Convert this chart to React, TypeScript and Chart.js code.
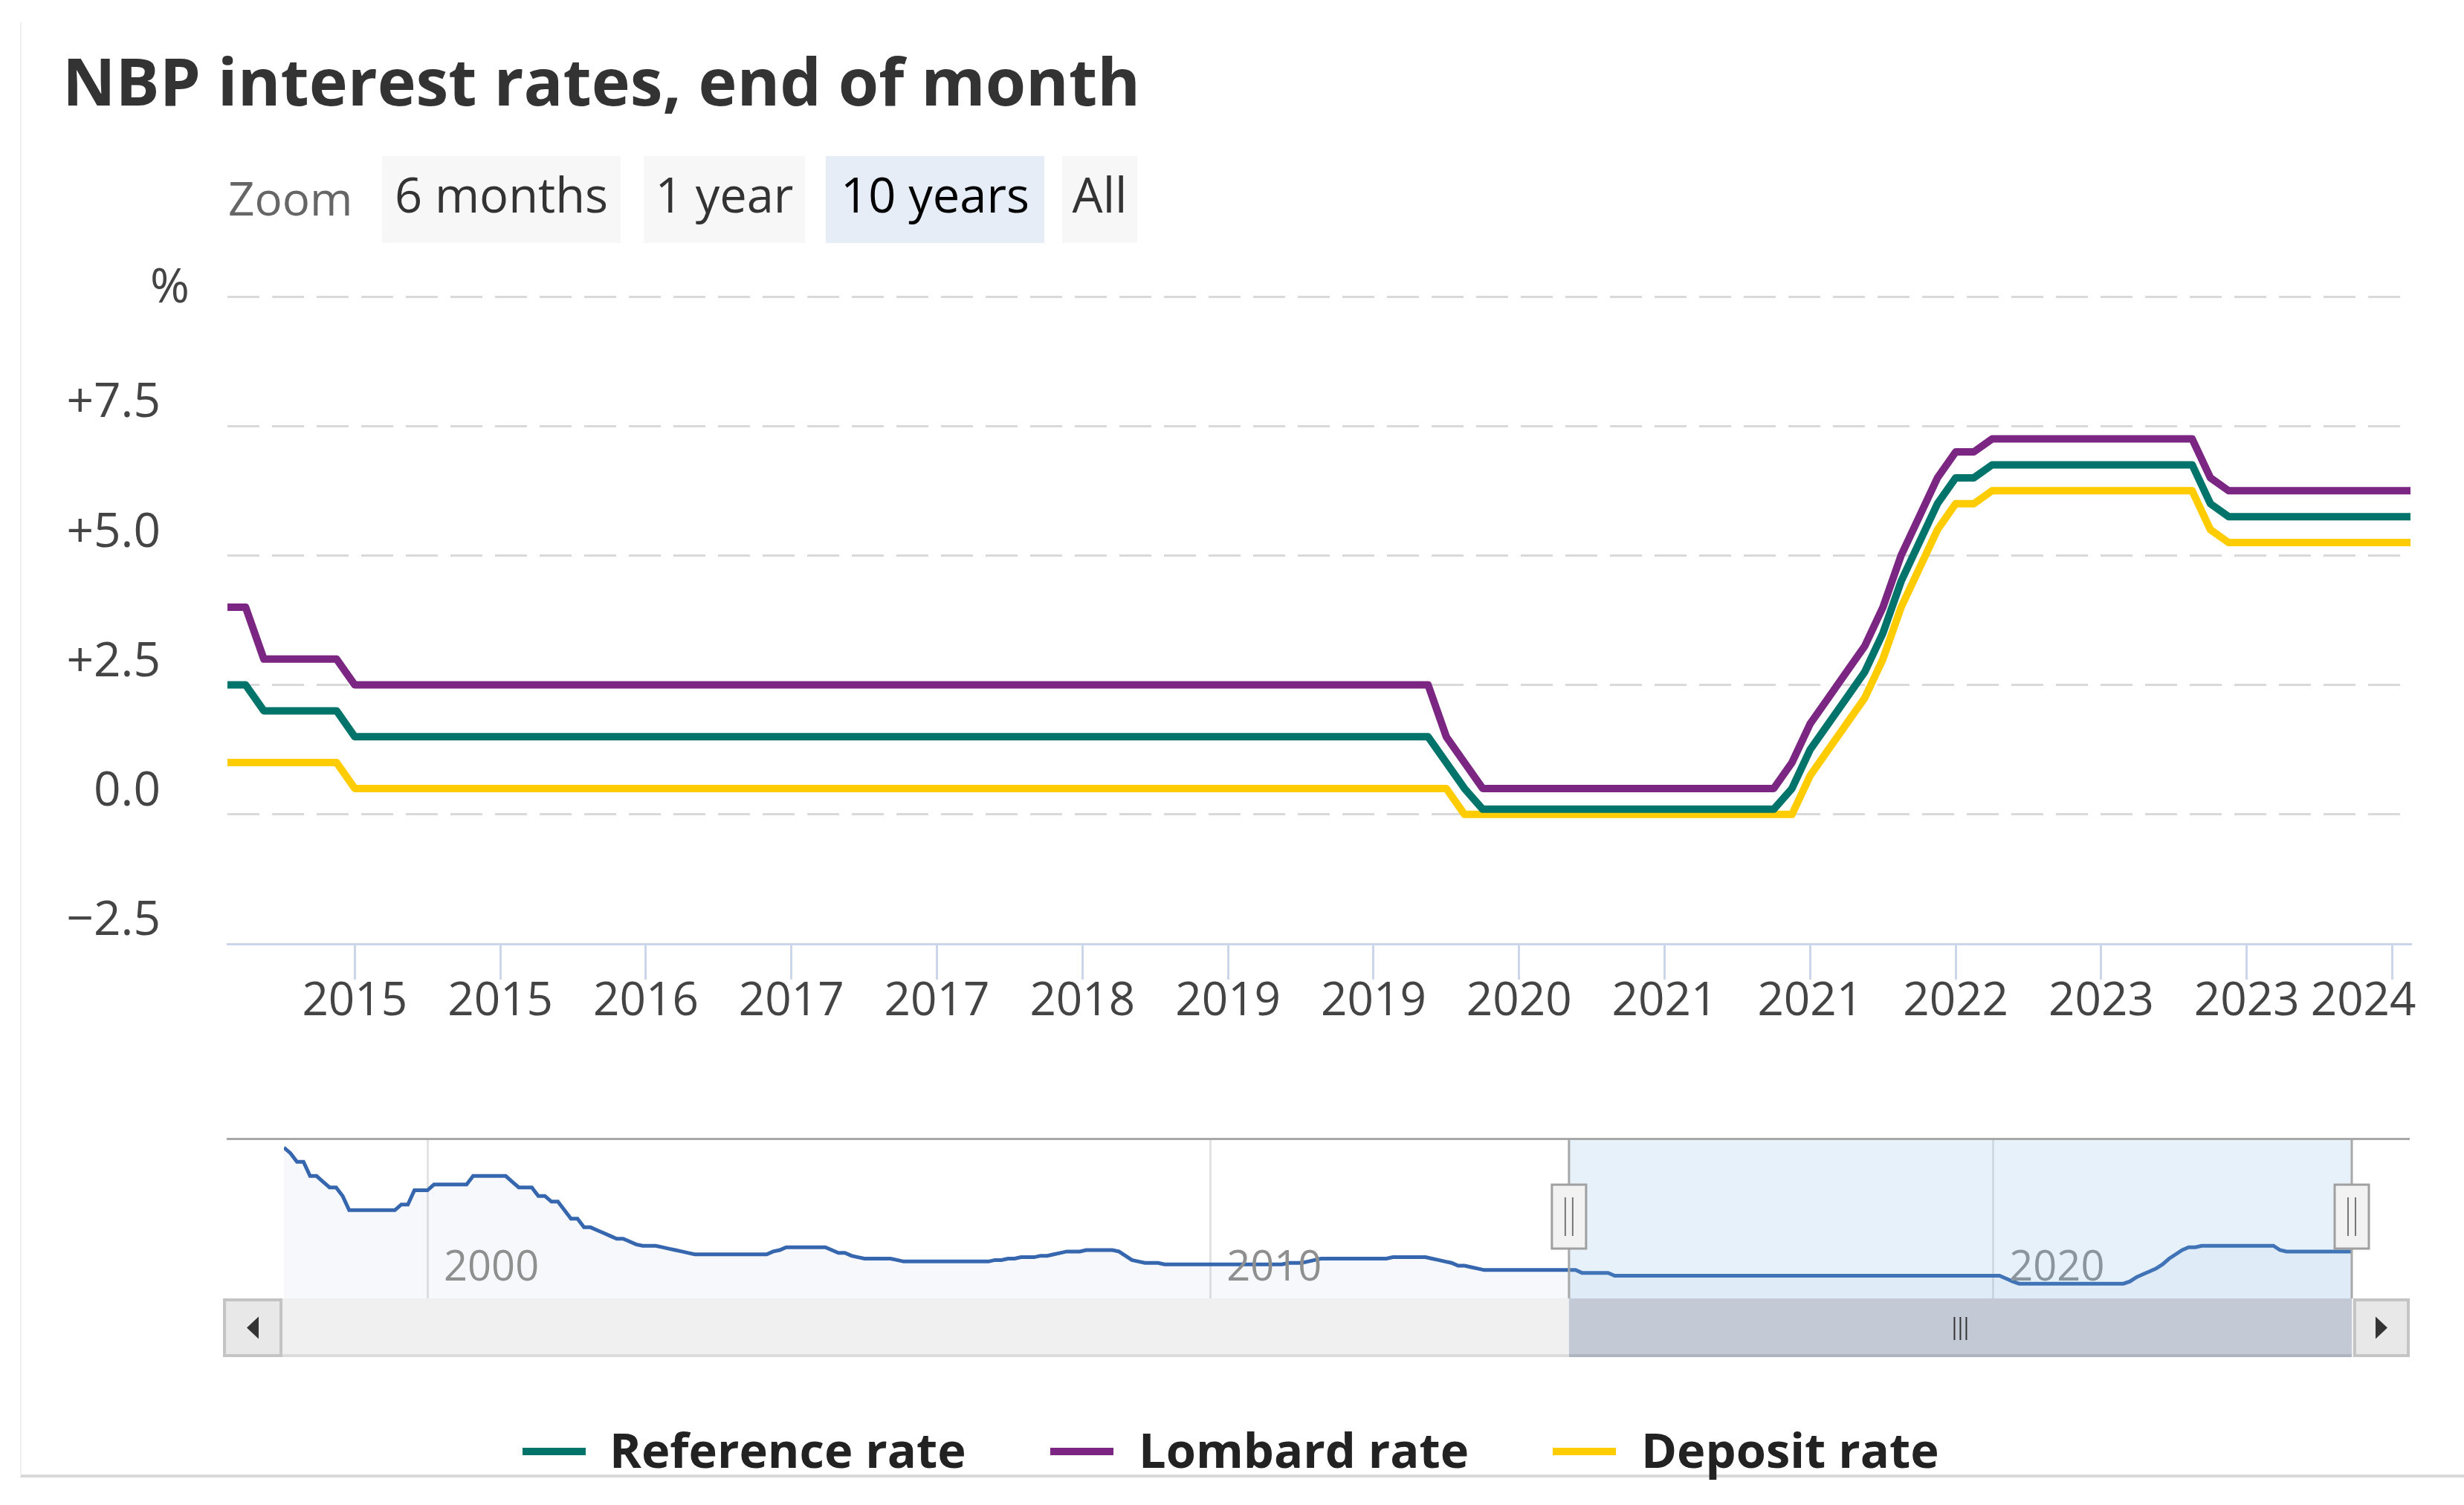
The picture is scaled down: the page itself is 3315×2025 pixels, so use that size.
import React, { useEffect, useRef } from 'react';
import { Chart, registerables } from 'chart.js';

Chart.register(...registerables);

const FONT = '"Open Sans", "Noto Sans", "DejaVu Sans", sans-serif';

const chartTitle = 'NBP interest rates, end of month';
const zoomLabel = 'Zoom';
const zoomButtons = ['6 months', '1 year', '10 years', 'All'];
const zoomSelected = 2;

const seriesNames = ['Reference rate', 'Lombard rate', 'Deposit rate'];
const seriesColors = ['#00736a', '#7b2682', '#ffcc00'];

// Month index 0 = Aug 2014 ... 120 = Aug 2024 (end-of-month values, %)
const referenceRate = [
  2.5, 2.5, 2.0, 2.0, 2.0, 2.0, 2.0, 1.5, 1.5, 1.5, 1.5, 1.5,
  1.5, 1.5, 1.5, 1.5, 1.5, 1.5, 1.5, 1.5, 1.5, 1.5, 1.5, 1.5,
  1.5, 1.5, 1.5, 1.5, 1.5, 1.5, 1.5, 1.5, 1.5, 1.5, 1.5, 1.5,
  1.5, 1.5, 1.5, 1.5, 1.5, 1.5, 1.5, 1.5, 1.5, 1.5, 1.5, 1.5,
  1.5, 1.5, 1.5, 1.5, 1.5, 1.5, 1.5, 1.5, 1.5, 1.5, 1.5, 1.5,
  1.5, 1.5, 1.5, 1.5, 1.5, 1.5, 1.5, 1.0, 0.5, 0.1, 0.1, 0.1,
  0.1, 0.1, 0.1, 0.1, 0.1, 0.1, 0.1, 0.1, 0.1, 0.1, 0.1, 0.1,
  0.1, 0.1, 0.5, 1.25, 1.75, 2.25, 2.75, 3.5, 4.5, 5.25, 6.0, 6.5,
  6.5, 6.75, 6.75, 6.75, 6.75, 6.75, 6.75, 6.75, 6.75, 6.75, 6.75, 6.75,
  6.75, 6.0, 5.75, 5.75, 5.75, 5.75, 5.75, 5.75, 5.75, 5.75, 5.75, 5.75,
  5.75,
];
const lombardRate = [
  4.0, 4.0, 3.0, 3.0, 3.0, 3.0, 3.0, 2.5, 2.5, 2.5, 2.5, 2.5,
  2.5, 2.5, 2.5, 2.5, 2.5, 2.5, 2.5, 2.5, 2.5, 2.5, 2.5, 2.5,
  2.5, 2.5, 2.5, 2.5, 2.5, 2.5, 2.5, 2.5, 2.5, 2.5, 2.5, 2.5,
  2.5, 2.5, 2.5, 2.5, 2.5, 2.5, 2.5, 2.5, 2.5, 2.5, 2.5, 2.5,
  2.5, 2.5, 2.5, 2.5, 2.5, 2.5, 2.5, 2.5, 2.5, 2.5, 2.5, 2.5,
  2.5, 2.5, 2.5, 2.5, 2.5, 2.5, 2.5, 1.5, 1.0, 0.5, 0.5, 0.5,
  0.5, 0.5, 0.5, 0.5, 0.5, 0.5, 0.5, 0.5, 0.5, 0.5, 0.5, 0.5,
  0.5, 0.5, 1.0, 1.75, 2.25, 2.75, 3.25, 4.0, 5.0, 5.75, 6.5, 7.0,
  7.0, 7.25, 7.25, 7.25, 7.25, 7.25, 7.25, 7.25, 7.25, 7.25, 7.25, 7.25,
  7.25, 6.5, 6.25, 6.25, 6.25, 6.25, 6.25, 6.25, 6.25, 6.25, 6.25, 6.25,
  6.25,
];
const depositRate = [
  1.0, 1.0, 1.0, 1.0, 1.0, 1.0, 1.0, 0.5, 0.5, 0.5, 0.5, 0.5,
  0.5, 0.5, 0.5, 0.5, 0.5, 0.5, 0.5, 0.5, 0.5, 0.5, 0.5, 0.5,
  0.5, 0.5, 0.5, 0.5, 0.5, 0.5, 0.5, 0.5, 0.5, 0.5, 0.5, 0.5,
  0.5, 0.5, 0.5, 0.5, 0.5, 0.5, 0.5, 0.5, 0.5, 0.5, 0.5, 0.5,
  0.5, 0.5, 0.5, 0.5, 0.5, 0.5, 0.5, 0.5, 0.5, 0.5, 0.5, 0.5,
  0.5, 0.5, 0.5, 0.5, 0.5, 0.5, 0.5, 0.5, 0.0, 0.0, 0.0, 0.0,
  0.0, 0.0, 0.0, 0.0, 0.0, 0.0, 0.0, 0.0, 0.0, 0.0, 0.0, 0.0,
  0.0, 0.0, 0.0, 0.75, 1.25, 1.75, 2.25, 3.0, 4.0, 4.75, 5.5, 6.0,
  6.0, 6.25, 6.25, 6.25, 6.25, 6.25, 6.25, 6.25, 6.25, 6.25, 6.25, 6.25,
  6.25, 5.5, 5.25, 5.25, 5.25, 5.25, 5.25, 5.25, 5.25, 5.25, 5.25, 5.25,
  5.25,
];
const seriesValues = [referenceRate, lombardRate, depositRate];
const mainLastMonth = 120;

const xTickMonths = [7, 15, 23, 31, 39, 47, 55, 63, 71, 79, 87, 95, 103, 111, 119];
const xTickLabels = ['2015', '2015', '2016', '2017', '2017', '2018', '2019', '2019', '2020', '2021', '2021', '2022', '2023', '2023', '2024'];

const yTickValues = [-2.5, 0, 2.5, 5, 7.5, 10];
const yTickLabels = ['\u22122.5', '0.0', '+2.5', '+5.0', '+7.5', '%'];

// Navigator: reference rate history, month index 0 = Mar 1998 ... 317 = Aug 2024
const navChangeMonths = [
  0, 1, 2, 4, 6, 7, 9, 10, 18, 20, 23, 29, 35, 36, 39, 41, 43, 44, 46, 48,
  49, 50, 51, 53, 54, 55, 58, 59, 60, 61, 62, 63, 75, 76, 77, 84, 85, 87, 88, 89,
  94, 95, 109, 111, 113, 116, 118, 119, 120, 123, 128, 129, 130, 131, 132, 135, 154, 157, 158, 159,
  170, 176, 177, 178, 179, 180, 182, 183, 184, 199, 204, 264, 265, 266, 283, 284, 285, 286, 287, 288,
  289, 290, 291, 292, 294, 306, 307,
];
const navChangeRates = [
  24, 23, 21.5, 19, 18, 17, 15.5, 13, 14, 16.5, 17.5, 19, 18, 17, 15.5, 14.5, 13, 11.5, 10, 9.5,
  9, 8.5, 8, 7.5, 7, 6.75, 6.5, 6.25, 6, 5.75, 5.5, 5.25, 5.75, 6, 6.5, 6, 5.5, 5, 4.75, 4.5,
  4.25, 4, 4.25, 4.5, 4.75, 5, 5.25, 5.5, 5.75, 6, 5.75, 5, 4.25, 4, 3.75, 3.5, 3.75, 4, 4.25, 4.5,
  4.75, 4.5, 4.25, 4, 3.75, 3.25, 3, 2.75, 2.5, 2, 1.5, 1, 0.5, 0.1, 0.5, 1.25, 1.75, 2.25, 2.75, 3.5,
  4.5, 5.25, 6, 6.5, 6.75, 6, 5.75,
];
const navLastMonth = 317;
const navTickMonths = [22, 142, 262];
const navTickLabels = ['2000', '2010', '2020'];
const navSelection = [197, 317];

function buildNavPoints() {
  const pts: { x: number; y: number }[] = [];
  navChangeMonths.forEach((m, i) => {
    if (i > 0 && m - 1 > navChangeMonths[i - 1]) {
      pts.push({ x: m - 1, y: navChangeRates[i - 1] });
    }
    pts.push({ x: m, y: navChangeRates[i] });
  });
  pts.push({ x: navLastMonth, y: navChangeRates[navChangeRates.length - 1] });
  return pts;
}

const X_FONT_SIZE = 62;
const X_TICK_LEN = 48;
const X_TICK_PAD = -7;

// Draws the "%" unit label at the top of the y axis and keeps the last x label
// inside the plot edge (as the original chart justifies it).
const axisExtras = {
  id: 'axisExtras',
  afterDraw(chart: any) {
    const { ctx } = chart;
    const y = chart.scales.y;
    const x = chart.scales.x;
    const py = y.getPixelForValue(10);
    const label = yTickLabels[yTickValues.indexOf(10)];
    ctx.save();
    ctx.font = `64px ${FONT}`;
    ctx.fillStyle = '#444444';
    ctx.textAlign = 'right';
    ctx.textBaseline = 'alphabetic';
    ctx.fillText(label, 255, py + 8);

    const last = xTickMonths.length - 1;
    const lx = x.getPixelForValue(xTickMonths[last]);
    ctx.font = `${X_FONT_SIZE}px ${FONT}`;
    ctx.textAlign = 'right';
    ctx.textBaseline = 'middle';
    ctx.fillText(xTickLabels[last], lx + 32, x.top + X_TICK_LEN + X_TICK_PAD + (X_FONT_SIZE * 1.2) / 2);
    ctx.restore();
  },
};

const navDecor = {
  id: 'navDecor',
  beforeDatasetsDraw(chart: any) {
    const { ctx, chartArea: a } = chart;
    const x = chart.scales.x;
    ctx.save();
    ctx.strokeStyle = '#e3e3e3';
    ctx.lineWidth = 3;
    navTickMonths.forEach((m) => {
      const px = Math.round(x.getPixelForValue(m)) + 0.5;
      ctx.beginPath();
      ctx.moveTo(px, a.top);
      ctx.lineTo(px, a.bottom);
      ctx.stroke();
    });
    ctx.restore();
  },
  afterDatasetsDraw(chart: any) {
    const { ctx, chartArea: a } = chart;
    const x = chart.scales.x;
    ctx.save();
    // axis labels
    ctx.font = `56px ${FONT}`;
    ctx.fillStyle = '#8f8f8f';
    ctx.textAlign = 'left';
    ctx.textBaseline = 'alphabetic';
    navTickMonths.forEach((m, i) => {
      const px = x.getPixelForValue(m);
      ctx.fillText(navTickLabels[i], px + 22, a.bottom - 24);
    });
    // selected range mask
    const x0 = x.getPixelForValue(navSelection[0]);
    const x1 = x.getPixelForValue(navSelection[1]);
    ctx.fillStyle = 'rgba(120,180,225,0.18)';
    ctx.fillRect(x0, a.top, x1 - x0, a.bottom - a.top);
    // outline
    ctx.strokeStyle = '#a8a8a8';
    ctx.lineWidth = 3;
    ctx.beginPath();
    ctx.moveTo(a.left - 77, a.top + 1.5);
    ctx.lineTo(a.right + 78, a.top + 1.5);
    ctx.moveTo(x0, a.top);
    ctx.lineTo(x0, a.bottom);
    ctx.moveTo(x1, a.top);
    ctx.lineTo(x1, a.bottom);
    ctx.stroke();

    // scrollbar
    const sbTop = a.bottom;
    const sbH = 79;
    const lb0 = a.left - 82;
    const lb1 = a.left - 2;
    const rb0 = a.right + 2;
    const rb1 = a.right + 78;
    ctx.fillStyle = '#f0f0f0';
    ctx.fillRect(lb1, sbTop, rb0 - lb1, sbH);
    ctx.fillStyle = '#c3cad5';
    ctx.fillRect(x0, sbTop, x1 - x0, sbH);
    ctx.fillStyle = '#aeb5c0';
    ctx.fillRect(x0, sbTop + sbH - 4, x1 - x0, 4);
    ctx.fillStyle = '#dcdcdc';
    ctx.fillRect(lb1, sbTop + sbH - 4, x0 - lb1, 4);
    // rifles
    ctx.strokeStyle = '#333333';
    ctx.lineWidth = 2;
    const cx = (x0 + x1) / 2;
    [-8, 0, 8].forEach((d) => {
      ctx.beginPath();
      ctx.moveTo(cx + d, sbTop + 25);
      ctx.lineTo(cx + d, sbTop + 56);
      ctx.stroke();
    });
    // buttons
    [[lb0, lb1, -1], [rb0, rb1, 1]].forEach(([b0, b1, dir]) => {
      ctx.fillStyle = '#e8e8e8';
      ctx.fillRect(b0, sbTop, b1 - b0, sbH);
      ctx.strokeStyle = '#c4c4c4';
      ctx.lineWidth = 4;
      ctx.strokeRect(b0 + 2, sbTop + 2, b1 - b0 - 4, sbH - 4);
      const bx = (b0 + b1) / 2;
      const by = sbTop + sbH / 2;
      ctx.fillStyle = '#333333';
      ctx.beginPath();
      ctx.moveTo(bx + dir * 8, by);
      ctx.lineTo(bx - dir * 8, by - 15);
      ctx.lineTo(bx - dir * 8, by + 15);
      ctx.closePath();
      ctx.fill();
    });
    // handles
    [x0, x1].forEach((hx) => {
      const hy = a.top + 63;
      ctx.fillStyle = '#f2f2f2';
      ctx.fillRect(hx - 23, hy, 46, 86);
      ctx.strokeStyle = '#a0a0a0';
      ctx.lineWidth = 3;
      ctx.strokeRect(hx - 23, hy, 46, 86);
      ctx.strokeStyle = '#777777';
      ctx.lineWidth = 2;
      [-5, 5].forEach((d) => {
        ctx.beginPath();
        ctx.moveTo(hx + d, hy + 17);
        ctx.lineTo(hx + d, hy + 69);
        ctx.stroke();
      });
    });
    ctx.restore();
  },
};

const buttonLayout = [
  { left: 514, width: 321 },
  { left: 866, width: 217 },
  { left: 1111, width: 294 },
  { left: 1429, width: 101 },
];
const legendLayout = [
  { sym: 703, text: 820 },
  { sym: 1413, text: 1532 },
  { sym: 2089, text: 2208 },
];

export default function App() {
  const mainRef = useRef<HTMLCanvasElement>(null);
  const navRef = useRef<HTMLCanvasElement>(null);

  useEffect(() => {
    const lastTick = xTickMonths.length - 1;
    const main = new Chart(mainRef.current as HTMLCanvasElement, {
      type: 'line',
      data: {
        datasets: seriesValues.map((vals, k) => ({
          label: seriesNames[k],
          data: vals.map((v, i) => ({ x: i, y: v })),
          borderColor: seriesColors[k],
          backgroundColor: seriesColors[k],
          borderWidth: 10,
          pointRadius: 0,
          tension: 0,
          borderJoinStyle: 'round',
          fill: false,
        })),
      },
      options: {
        responsive: false,
        animation: false,
        devicePixelRatio: 1,
        layout: { padding: { left: 0, right: 72, top: 59, bottom: 0 } },
        plugins: { legend: { display: false }, tooltip: { enabled: false } },
        scales: {
          x: {
            type: 'linear',
            min: 0,
            max: mainLastMonth,
            afterBuildTicks: (s: any) => {
              s.ticks = xTickMonths.map((v) => ({ value: v }));
            },
            afterFit: (s: any) => {
              s.height = 150;
            },
            grid: { drawOnChartArea: false, drawTicks: true, tickLength: X_TICK_LEN, color: '#ccd6eb', lineWidth: 3 },
            border: { display: true, color: '#ccd6eb', width: 3 },
            ticks: {
              autoSkip: false,
              maxRotation: 0,
              padding: X_TICK_PAD,
              color: (ctx: any) => (ctx.index === lastTick ? 'rgba(0,0,0,0)' : '#444444'),
              font: { family: FONT, size: X_FONT_SIZE },
              callback: (v: any) => {
                const i = xTickMonths.indexOf(Number(v));
                return i >= 0 ? xTickLabels[i] : null;
              },
            },
          },
          y: {
            type: 'linear',
            min: -2.5,
            max: 10,
            afterBuildTicks: (s: any) => {
              s.ticks = yTickValues.map((v) => ({ value: v }));
            },
            afterFit: (s: any) => {
              s.width = 306;
              s.paddingTop = 0;
              s.paddingBottom = 0;
            },
            grid: {
              color: (ctx: any) => (ctx.tick && ctx.tick.value === -2.5 ? 'rgba(0,0,0,0)' : '#d9d9d9'),
              lineWidth: 3,
              drawTicks: false,
            },
            border: { display: false, dash: [43, 17] },
            ticks: {
              padding: 90,
              labelOffset: -30,
              color: '#444444',
              font: { family: FONT, size: 64 },
              callback: (v: any) => {
                const l = yTickLabels[yTickValues.indexOf(Number(v))];
                return l === '%' ? '' : l;
              },
            },
          },
        },
      } as any,
      plugins: [axisExtras],
    });

    const nav = new Chart(navRef.current as HTMLCanvasElement, {
      type: 'line',
      data: {
        datasets: [
          {
            data: buildNavPoints(),
            borderColor: '#3566ae',
            backgroundColor: 'rgba(51,92,173,0.045)',
            borderWidth: 5,
            pointRadius: 0,
            tension: 0,
            fill: 'start',
          },
        ],
      },
      options: {
        responsive: false,
        animation: false,
        devicePixelRatio: 1,
        layout: { padding: { left: 382, right: 151, top: 11, bottom: 93 } },
        plugins: { legend: { display: false }, tooltip: { enabled: false } },
        scales: {
          x: { type: 'linear', display: false, min: 0, max: navLastMonth },
          y: { type: 'linear', display: false, min: -2.48, max: 25.7 },
        },
      } as any,
      plugins: [navDecor],
    });

    return () => {
      main.destroy();
      nav.destroy();
    };
  }, []);

  const textBase = { position: 'absolute' as const, fontFamily: FONT, lineHeight: 1.362, whiteSpace: 'nowrap' as const };

  return (
    <div style={{ position: 'absolute', left: 0, top: 0, width: 3315, height: 2025, background: '#ffffff', overflow: 'hidden' }}>
      <div style={{ position: 'absolute', left: 27, top: 30, width: 3300, height: 1954, borderLeft: '2px solid #f0f0f0', borderBottom: '4px solid #d8d8d8' }} />
      <div style={{ ...textBase, left: 84, top: 49, fontSize: 88, fontWeight: 700, color: '#333333' }}>{chartTitle}</div>
      <div style={{ ...textBase, left: 307, top: 224, fontSize: 62, color: '#666666' }}>{zoomLabel}</div>
      {zoomButtons.map((b, i) => (
        <div
          key={b}
          style={{
            position: 'absolute',
            left: buttonLayout[i].left,
            top: 210,
            width: buttonLayout[i].width,
            height: 117,
            background: i === zoomSelected ? '#e6edf7' : '#f7f7f7',
          }}
        >
          <div style={{ ...textBase, left: 0, width: '100%', textAlign: 'center', top: 7, fontSize: 65, color: i === zoomSelected ? '#000000' : '#333333' }}>{b}</div>
        </div>
      ))}
      <canvas ref={mainRef} width={3315} height={1080} style={{ position: 'absolute', left: 0, top: 340, width: 3315, height: 1080 }} />
      <canvas ref={navRef} width={3315} height={320} style={{ position: 'absolute', left: 0, top: 1520, width: 3315, height: 320 }} />
      {seriesNames.map((n, i) => (
        <React.Fragment key={n}>
          <div style={{ position: 'absolute', left: legendLayout[i].sym, top: 1948, width: 85, height: 10, background: seriesColors[i] }} />
          <div style={{ ...textBase, left: legendLayout[i].text, top: 1906, fontSize: 65, fontWeight: 700, color: '#222222' }}>{n}</div>
        </React.Fragment>
      ))}
    </div>
  );
}
